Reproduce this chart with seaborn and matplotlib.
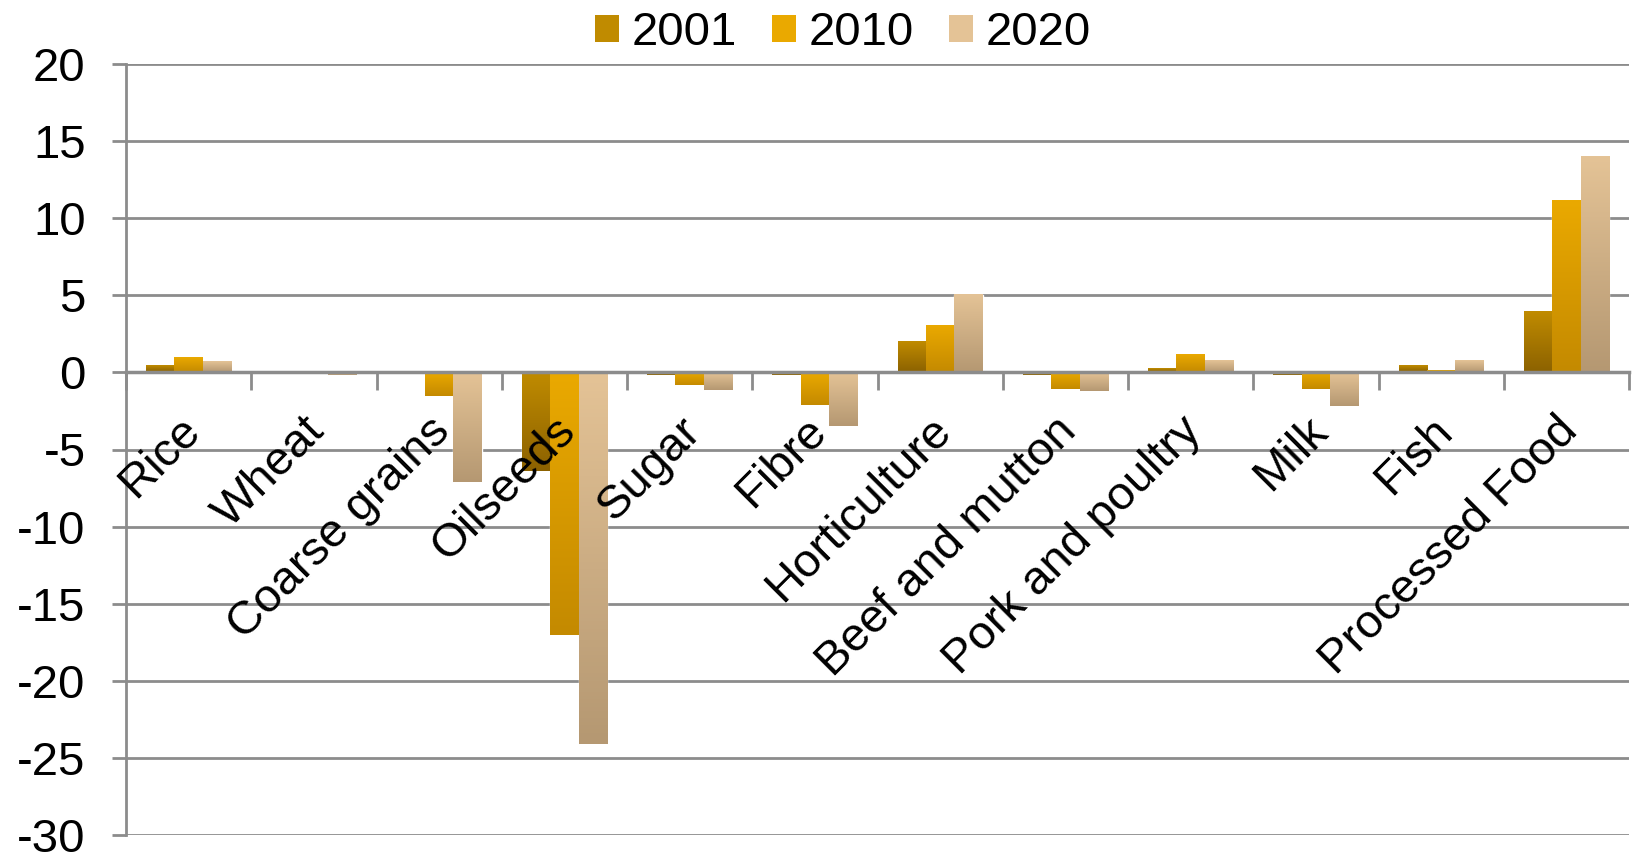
import numpy as np
import pandas as pd
import matplotlib.pyplot as plt
import matplotlib.transforms as mtransforms
from matplotlib.colors import LinearSegmentedColormap
from matplotlib.patches import Patch
import seaborn as sns

categories = ["Rice", "Wheat", "Coarse grains", "Oilseeds", "Sugar", "Fibre",
              "Horticulture", "Beef and mutton", "Pork and poultry", "Milk",
              "Fish", "Processed Food"]
years = ["2001", "2010", "2020"]
vals_2001 = [0.45, -0.05, -0.05, -6.4, -0.2, -0.2, 1.95, -0.2, 0.2, -0.2, 0.45, 3.95]
vals_2010 = [0.95, -0.05, -1.5, -17.0, -0.8, -2.1, 3.0, -1.05, 1.15, -1.05, 0.1, 11.1]
vals_2020 = [0.7, -0.2, -7.1, -24.1, -1.15, -3.5, 5.0, -1.2, 0.75, -2.2, 0.75, 14.0]

# top colour, bottom colour for each year's gradient
grad = {
    "2001": ("#c08b00", "#8c6200"),
    "2010": ("#eaa900", "#c48a00"),
    "2020": ("#e4c396", "#b59872"),
}

df = pd.DataFrame({
    "Category": categories * 3,
    "Year": [y for y in years for _ in categories],
    "Value": vals_2001 + vals_2010 + vals_2020,
})

sns.set_style("white")
plt.rcParams["font.family"] = ["Liberation Sans", "DejaVu Sans"]
plt.rcParams["axes.unicode_minus"] = False
plt.rcParams["text.color"] = "black"

fig = plt.figure(figsize=(16.37, 8.56), dpi=100)
ax = fig.add_axes([126 / 1637, 1 - 835 / 856, (1629 - 126) / 1637, (835 - 64) / 856])

palette = {y: grad[y][0] for y in years}
sns.barplot(data=df, x="Category", y="Value", hue="Year", palette=palette,
            width=0.68, gap=0, ax=ax, legend=False, saturation=1)

# gradient fill for each bar
for container, yr in zip(ax.containers, years):
    cmap = LinearSegmentedColormap.from_list(yr, [grad[yr][1], grad[yr][0]])
    for bar in container:
        x0, w = bar.get_x(), bar.get_width()
        y0, h = bar.get_y(), bar.get_height()
        lo, hi = min(y0, y0 + h), max(y0, y0 + h)
        g = np.linspace(0, 1, 100).reshape(-1, 1)
        ax.imshow(g, cmap=cmap, origin="lower", aspect="auto",
                  extent=(x0, x0 + w, lo, hi), zorder=3)
        bar.set_zorder(2)
ax.set_xlim(-0.5, len(categories) - 0.5)
ax.set_ylim(-30, 20)

ax.set_yticks(range(-30, 21, 5))
ax.yaxis.grid(True, color="#8c8c8c", linewidth=2)
ax.set_axisbelow(True)
ax.tick_params(axis="y", labelsize=34, length=10, width=2, color="#8c8c8c",
               left=True, pad=19, labelcolor="black")

for s in ["top", "right"]:
    ax.spines[s].set_visible(False)
ax.spines["left"].set_color("#8c8c8c")
ax.spines["left"].set_linewidth(2)
ax.spines["bottom"].set_position(("data", 0))
ax.spines["bottom"].set_color("#8c8c8c")
ax.spines["bottom"].set_linewidth(2.5)
ax.spines["bottom"].set_zorder(4)

ax.set_xticks(range(len(categories)))
ax.set_xticks(np.arange(-0.5, len(categories), 1.0), minor=True)
ax.tick_params(axis="x", which="major", length=0, pad=26, labelcolor="black")
ax.tick_params(axis="x", which="minor", length=13, width=2, color="#8c8c8c",
               bottom=True)
ax.set_xticklabels(categories, rotation=45, ha="right", fontsize=34)
offset = mtransforms.ScaledTranslation(20 / 100, 0, fig.dpi_scale_trans)
for lab in ax.get_xticklabels():
    lab.set_transform(lab.get_transform() + offset)
ax.xaxis.set_zorder(6)
ax.set_xlabel("")
ax.set_ylabel("")

handles = [Patch(facecolor=grad[y][0], edgecolor="none") for y in years]
fig.legend(handles, years, loc="upper center", bbox_to_anchor=(0.515, 1.037),
           ncol=3, frameon=False, fontsize=34, handlelength=0.5,
           handleheight=0.5, handletextpad=0.27, columnspacing=0.75)

fig.savefig("out.png", dpi=100)
